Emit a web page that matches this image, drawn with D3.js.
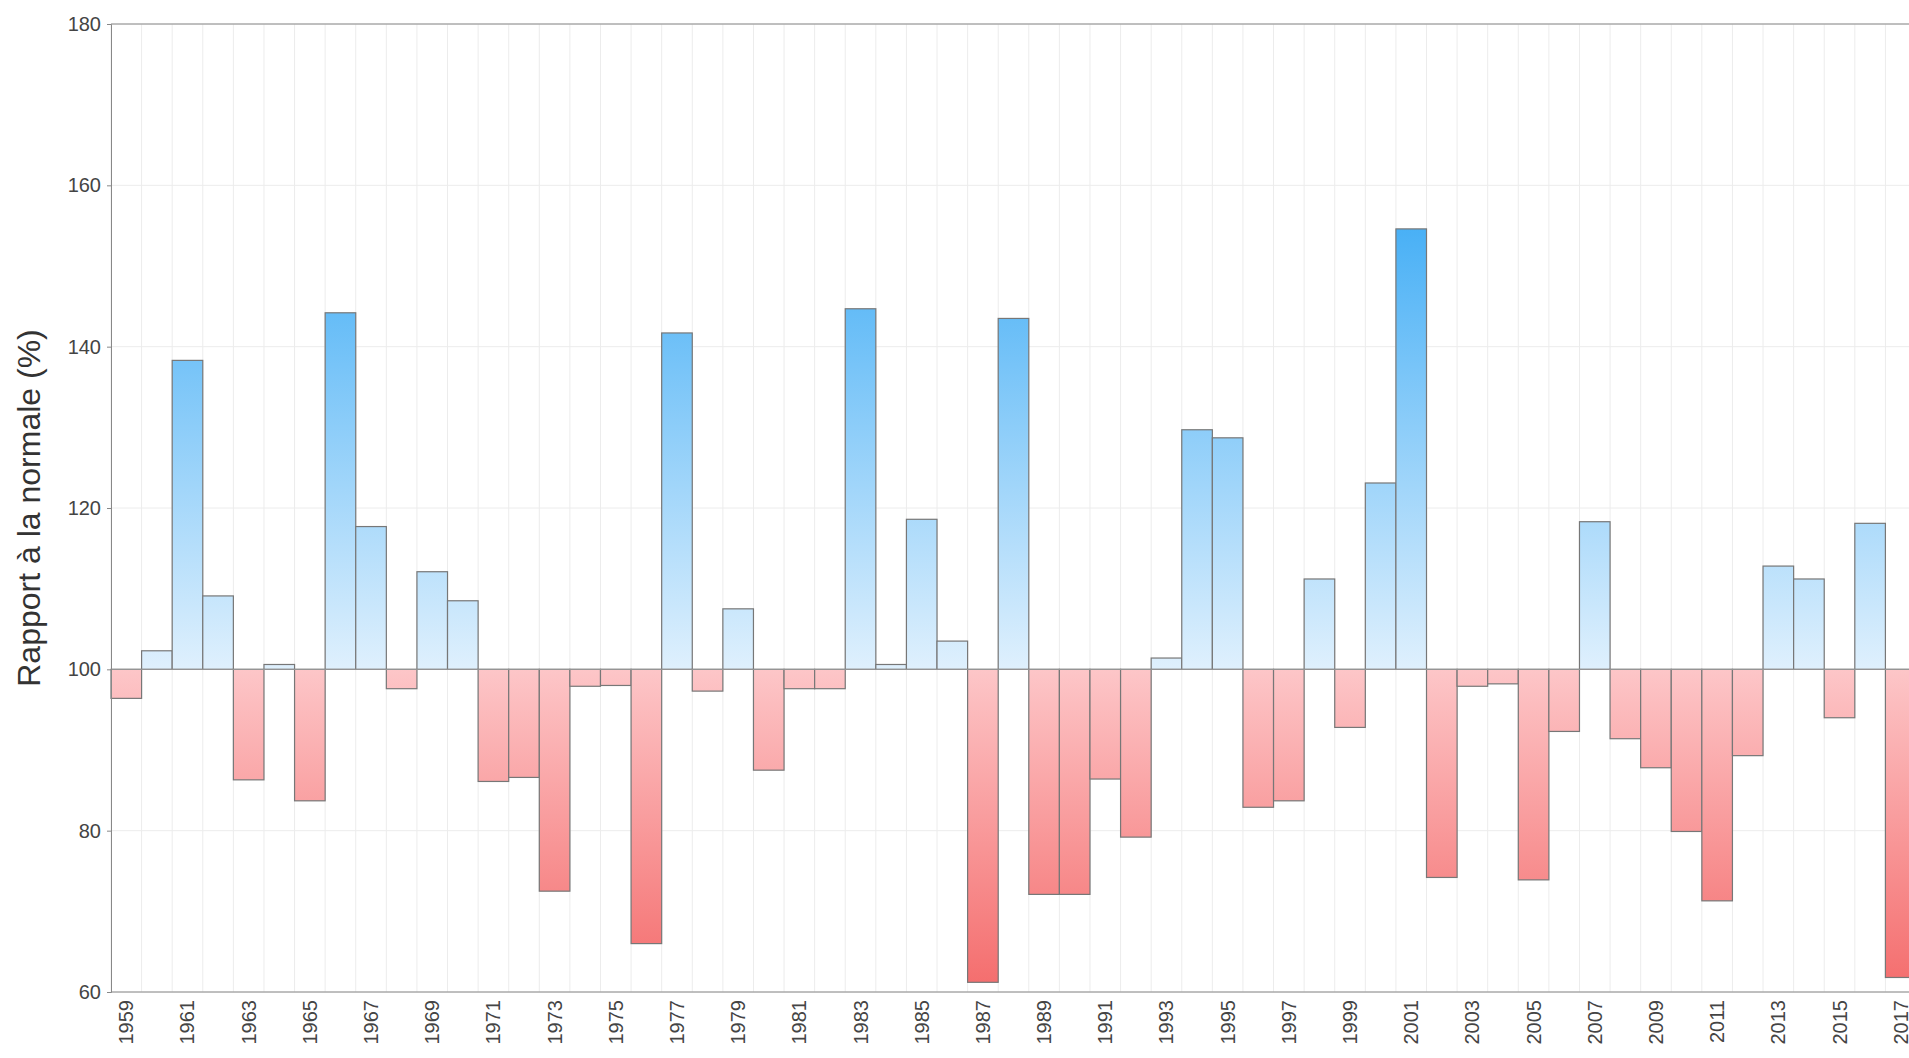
<!DOCTYPE html>
<html><head><meta charset="utf-8">
<script src="https://cdn.jsdelivr.net/npm/d3@7"></script>
<style>body{margin:0;background:#fff;overflow:hidden}text{font-family:"Liberation Sans",Arial,sans-serif}</style>
</head><body><svg id="c" width="1909" height="1058"></svg>
<script>
var years = d3.range(1959, 2018);
var values = [96.4,102.3,138.3,109.1,86.3,100.6,83.7,144.2,117.7,97.6,112.1,108.5,86.1,86.6,72.5,97.9,98.0,66.0,141.7,97.3,107.5,87.5,97.6,97.6,144.7,100.6,118.6,103.5,61.2,143.5,72.1,72.1,86.4,79.2,101.4,129.7,128.7,82.9,83.7,111.2,92.8,123.1,154.6,74.2,97.9,98.2,73.9,92.3,118.3,91.4,87.8,79.9,71.3,89.3,112.8,111.2,94.0,118.1,61.8];
var yTicks = [60, 80, 100, 120, 140, 160, 180];

var svg = d3.select("#c");
var mLeft = 111, mTop = 24, mBottom = 992, mRight = 1916;
var x = d3.scaleBand().domain(years).range([mLeft, mRight]);
var y = d3.scaleLinear().domain([60, 180]).range([mBottom, mTop]);

var defs = svg.append("defs");
var gb = defs.append("linearGradient").attr("id", "gb").attr("gradientUnits", "userSpaceOnUse")
  .attr("x1", 0).attr("x2", 0).attr("y1", y(100)).attr("y2", y(160));
gb.append("stop").attr("offset", 0).attr("stop-color", "#dff0fd");
gb.append("stop").attr("offset", 1).attr("stop-color", "#3aaaf5");
var gr = defs.append("linearGradient").attr("id", "gr").attr("gradientUnits", "userSpaceOnUse")
  .attr("x1", 0).attr("x2", 0).attr("y1", y(100)).attr("y2", y(60));
gr.append("stop").attr("offset", 0).attr("stop-color", "#fdc6c8");
gr.append("stop").attr("offset", 1).attr("stop-color", "#f46c6c");

// grid
svg.append("g").selectAll("line").data(years).join("line")
  .attr("x1", d => x(d)).attr("x2", d => x(d)).attr("y1", mTop).attr("y2", mBottom)
  .attr("stroke", "#ececec");
svg.append("g").selectAll("line").data(yTicks).join("line")
  .attr("x1", mLeft).attr("x2", 1909).attr("y1", d => y(d)).attr("y2", d => y(d))
  .attr("stroke", "#ececec");

// bars
svg.append("g").selectAll("rect").data(values).join("rect")
  .attr("x", (d, i) => x(years[i]))
  .attr("width", x.bandwidth())
  .attr("y", d => y(Math.max(d, 100)))
  .attr("height", d => Math.abs(y(d) - y(100)))
  .attr("fill", d => d >= 100 ? "url(#gb)" : "url(#gr)")
  .attr("stroke", "#777").attr("stroke-width", 1.2);

svg.append("line").attr("x1", mLeft).attr("x2", 1909).attr("y1", y(100)).attr("y2", y(100))
  .attr("stroke", "#999");

// axes
svg.append("line").attr("x1", mLeft).attr("x2", 1909).attr("y1", mTop).attr("y2", mTop).attr("stroke", "#888");
svg.append("line").attr("x1", mLeft).attr("x2", 1909).attr("y1", mBottom).attr("y2", mBottom).attr("stroke", "#888");
var ya = svg.append("g").attr("transform", "translate(" + mLeft + ",0)")
  .call(d3.axisLeft(y).tickValues(yTicks).tickSize(4).tickPadding(6));
ya.select(".domain").attr("stroke", "#888");
ya.selectAll("line").attr("stroke", "#888");
ya.selectAll("text").attr("font-size", 20).attr("fill", "#444");

var xa = svg.append("g").attr("transform", "translate(0," + mBottom + ")")
  .call(d3.axisBottom(x).tickValues(years.filter(d => d % 2 == 1)).tickSize(0));
xa.select(".domain").remove();
xa.selectAll("text").attr("font-size", 20).attr("fill", "#444")
  .attr("transform", "rotate(-90)").attr("text-anchor", "end")
  .attr("x", -8).attr("y", 0).attr("dy", "0.35em");

svg.append("text").attr("transform", "translate(40," + ((mTop + mBottom) / 2) + ") rotate(-90)")
  .attr("text-anchor", "middle").attr("font-size", 32).attr("fill", "#333")
  .text("Rapport à la normale (%)");
</script></body></html>
